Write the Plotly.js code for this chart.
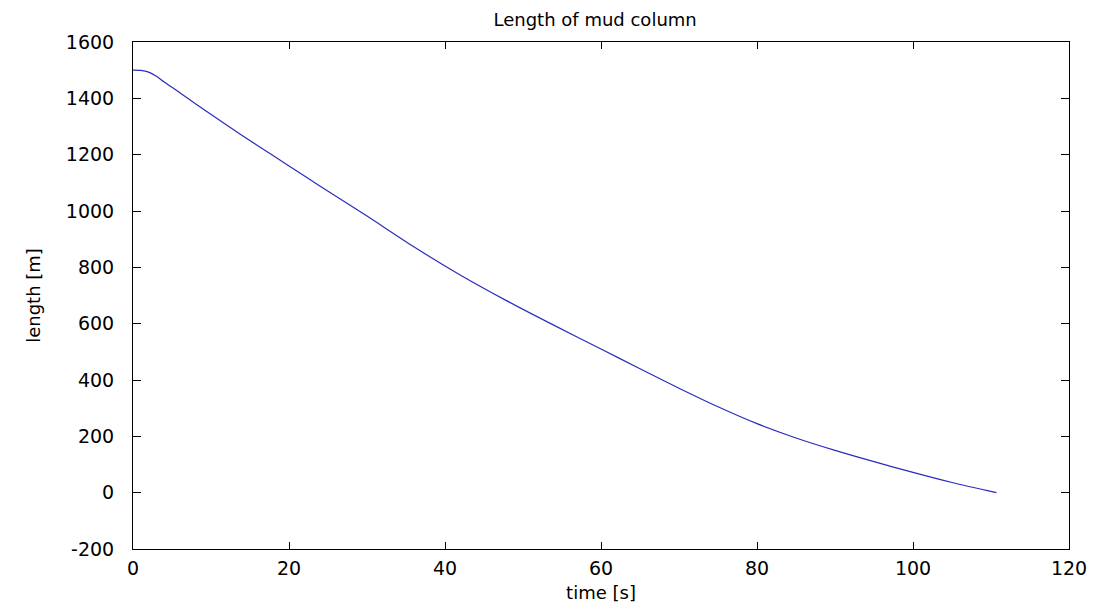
<!DOCTYPE html>
<html>
<head>
<meta charset="utf-8">
<script src="https://cdn.plot.ly/plotly-3.0.1.min.js"></script>
<style>
html,body{margin:0;padding:0;background:#fff;}
#chart{width:1097px;height:612px;}
</style>
</head>
<body>
<div id="chart"></div>
<script>
// time [s]
var timeS = [0, 1, 2, 3, 4, 6, 8, 12, 16, 20, 24, 30, 36, 42, 48, 54, 60, 65, 70, 75, 80, 85, 90, 95, 100, 105, 110.7];
// length [m]
var lengthM = [1500, 1499, 1493, 1478, 1458, 1420, 1381, 1305, 1232, 1160, 1088, 982, 873, 772, 680, 594, 510, 440, 371, 305, 245, 194, 150, 110, 72, 36, 0];

var xTicks = [0, 20, 40, 60, 80, 100, 120];
var yTicks = [-200, 0, 200, 400, 600, 800, 1000, 1200, 1400, 1600];

var fontFam = 'DejaVu Sans, Liberation Sans, Arial, sans-serif';

var trace = {
  x: timeS,
  y: lengthM,
  type: 'scatter',
  mode: 'lines',
  line: {color: '#2b2bbd', width: 1.2, shape: 'spline', smoothing: 0.8},
  hoverinfo: 'skip'
};

var layout = {
  width: 1097,
  height: 612,
  paper_bgcolor: '#ffffff',
  plot_bgcolor: '#ffffff',
  margin: {l: 133, r: 28, t: 42, b: 63, pad: 0},
  showlegend: false,
  title: {
    text: 'Length of mud column',
    font: {family: fontFam, size: 18, color: '#000'},
    x: 0.5425, xanchor: 'center',
    y: 0.967, yanchor: 'middle'
  },
  xaxis: {
    range: [0, 120],
    tickmode: 'array',
    tickvals: xTicks,
    ticktext: xTicks.map(String),
    ticks: 'inside',
    ticklen: 7,
    tickwidth: 1,
    tickcolor: '#000',
    showline: true,
    linecolor: '#000',
    linewidth: 1,
    mirror: 'ticks',
    showgrid: false,
    zeroline: false,
    tickfont: {family: fontFam, size: 19, color: '#000'},
    ticklabelstandoff: 2,
    title: {text: 'time [s]', font: {family: fontFam, size: 18, color: '#000'}, standoff: 8}
  },
  yaxis: {
    range: [-200, 1600],
    tickmode: 'array',
    tickvals: yTicks,
    ticktext: yTicks.map(String),
    ticks: 'inside',
    ticklen: 8,
    tickwidth: 1,
    tickcolor: '#000',
    showline: true,
    linecolor: '#000',
    linewidth: 1,
    mirror: 'ticks',
    showgrid: false,
    zeroline: false,
    tickfont: {family: fontFam, size: 19, color: '#000'},
    ticklabelstandoff: 14,
    title: {text: 'length [m]', font: {family: fontFam, size: 18, color: '#000'}, standoff: 20}
  }
};

Plotly.newPlot('chart', [trace], layout, {displayModeBar: false, staticPlot: true});
</script>
</body>
</html>
